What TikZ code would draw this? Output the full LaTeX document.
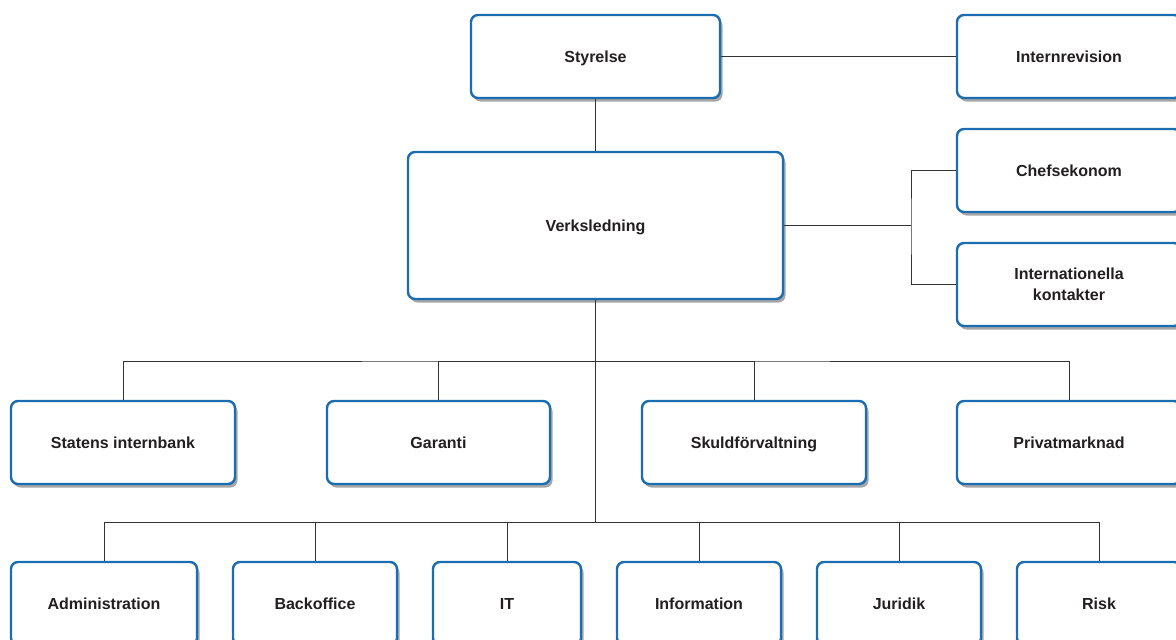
\documentclass[tikz,border=0pt]{standalone}
\usepackage{fontspec}
\setmainfont{Liberation Sans}
\usetikzlibrary{shadows}
\definecolor{boxblue}{HTML}{1B6DB2}
\definecolor{linegray}{HTML}{333333}
\definecolor{txt}{HTML}{231F20}
\tikzset{
  orgbox/.style={draw=boxblue, line width=2.4pt, rounded corners=7pt, fill=white,
    align=center, inner sep=2pt, text=txt, font=\bfseries\fontsize{16}{20.5}\selectfont,
    drop shadow={shadow xshift=2.5pt, shadow yshift=-3.5pt, fill=black, opacity=0.35}},
  oneline/.style={text height=13pt, text depth=2pt},
  conn/.style={draw=linegray, line width=0.9pt}
}
\begin{document}
\begin{tikzpicture}[x=1pt,y=-1pt]
\useasboundingbox (0,0) rectangle (1176,640);
\clip (0,0) rectangle (1176,640);
% top
\node[orgbox, oneline, minimum width=249pt, minimum height=83pt] (sty) at (595.5,56.5) {Styrelse};
\node[orgbox, oneline, minimum width=224pt, minimum height=83pt] (intrev) at (1069,56.5) {Internrevision};
\node[orgbox, oneline, minimum width=375pt, minimum height=147pt] (verk) at (595.5,225.5) {Verksledning};
\node[orgbox, oneline, minimum width=224pt, minimum height=83pt] (chef) at (1069,170.5) {Chefsekonom};
\node[orgbox, minimum width=224pt, minimum height=83pt] (intl) at (1069,284.5) {Internationella\\kontakter};
% row 3
\node[orgbox, oneline, minimum width=224pt, minimum height=83pt] (sib) at (123,442.5) {Statens internbank};
\node[orgbox, oneline, minimum width=223pt, minimum height=83pt] (gar) at (438.5,442.5) {Garanti};
\node[orgbox, oneline, minimum width=224pt, minimum height=83pt] (skf) at (754,442.5) {Skuldförvaltning};
\node[orgbox, oneline, minimum width=224pt, minimum height=83pt] (priv) at (1069,442.5) {Privatmarknad};
% row 4
\node[orgbox, oneline, minimum width=186pt, minimum height=83pt] (adm) at (104,603.5) {Administration};
\node[orgbox, oneline, minimum width=164pt, minimum height=83pt] (bo) at (315,603.5) {Backoffice};
\node[orgbox, oneline, minimum width=148pt, minimum height=83pt] (it) at (507,603.5) {IT};
\node[orgbox, oneline, minimum width=164pt, minimum height=83pt] (info) at (699,603.5) {Information};
\node[orgbox, oneline, minimum width=164pt, minimum height=83pt] (jur) at (899,603.5) {Juridik};
\node[orgbox, oneline, minimum width=164pt, minimum height=83pt] (risk) at (1099,603.5) {Risk};
% junctions
\coordinate (jc) at (911,225.5);
\coordinate (bus1) at (595.5,361);
\coordinate (bus2) at (595.5,522);
% connectors
\draw[conn] (sty.south) -- (verk.north);
\draw[conn] (sty.east) -- (intrev.west);
\draw[conn] (verk.east) -- (jc);
\draw[conn] (chef.west) -| (jc) |- (intl.west);
\draw[conn] (verk.south) -- (bus2);
\draw[conn] (sib.north) |- (bus1) -| (priv.north);
\draw[conn] (gar.north) |- (bus1);
\draw[conn] (skf.north) |- (bus1);
\draw[conn] (adm.north) |- (bus2) -| (risk.north);
\draw[conn] (bo.north) |- (bus2);
\draw[conn] (it.north) |- (bus2);
\draw[conn] (info.north) |- (bus2);
\draw[conn] (jur.north) |- (bus2);
\end{tikzpicture}
\end{document}
